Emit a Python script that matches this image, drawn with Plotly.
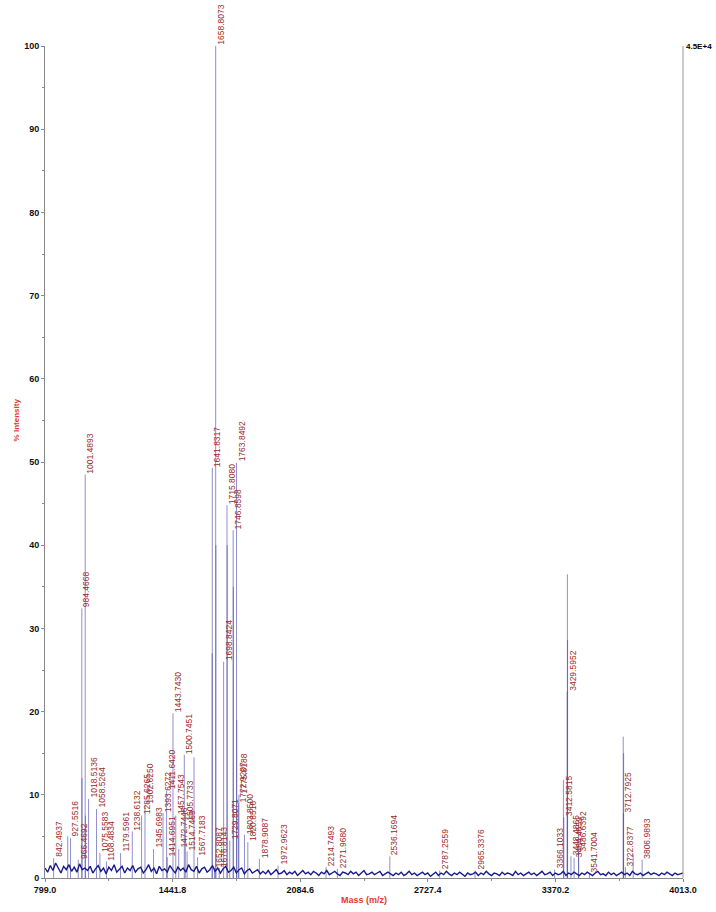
import plotly.graph_objects as go

# ---------------- data ----------------
x_ticks = [799.0, 1441.8, 2084.6, 2727.4, 3370.2, 4013.0]
y_ticks = [0, 10, 20, 30, 40, 50, 60, 70, 80, 90, 100]

peak_mz = [842.4937, 913.50, 927.5516, 966.4692, 984.4668, 985.47, 1001.4893, 1002.49,
           1018.5136, 1058.5264, 1075.5583, 1108.4834, 1179.5961, 1238.6132, 1285.6265,
           1302.6250, 1345.6983, 1393.6272, 1411.6420, 1414.6951, 1443.7430, 1457.7543,
           1472.7446, 1500.7451, 1505.7733, 1514.7469, 1549.70, 1567.7183, 1640.83,
           1641.8317, 1652.8087, 1658.8073, 1659.81, 1676.8143, 1698.8424, 1715.8080,
           1716.81, 1729.8071, 1746.8598, 1747.86, 1763.8492, 1764.85, 1772.9207,
           1775.8188, 1803.8500, 1820.8516, 1878.9087, 1972.9623, 2214.7493, 2271.9680,
           2536.1694, 2787.2559, 2965.3376, 3366.1033, 3410.60, 3412.5815, 3429.5952,
           3430.60, 3431.60, 3448.4865, 3464.4659, 3486.6392, 3487.64, 3541.7004,
           3711.79, 3712.7925, 3713.80, 3722.8377, 3762.0, 3806.9893]
peak_pct = [2.4, 5.0, 4.8, 2.2, 32.4, 12.0, 48.5, 7.5,
            9.5, 8.3, 3.0, 2.0, 3.0, 5.6, 7.5,
            8.8, 3.5, 7.8, 10.5, 2.5, 19.8, 7.5,
            3.5, 14.8, 6.8, 3.2, 14.5, 2.5, 27.0,
            49.3, 1.2, 100.0, 40.0, 1.2, 26.0, 44.8,
            40.0, 4.5, 41.8, 35.0, 49.9, 19.0, 9.0,
            10.0, 5.2, 4.3, 2.3, 1.5, 1.3, 1.1,
            2.6, 0.9, 0.9, 1.0, 11.8, 7.3, 22.4,
            36.5, 28.6, 2.6, 2.4, 3.0, 6.2, 0.6,
            17.0, 7.8, 15.0, 1.3, 2.8, 2.2]
peak_label = ["842.4937", None, "927.5516", "966.4692", "984.4668", None, "1001.4893", None,
              "1018.5136", "1058.5264", "1075.5583", "1108.4834", "1179.5961", "1238.6132", "1285.6265",
              "1302.6250", "1345.6983", "1393.6272", "1411.6420", "1414.6951", "1443.7430", "1457.7543",
              "1472.7446", "1500.7451", "1505.7733", "1514.7469", None, "1567.7183", None,
              "1641.8317", "1652.8087", "1658.8073", None, "1676.8143", "1698.8424", "1715.8080",
              None, "1729.8071", "1746.8598", None, "1763.8492", None, "1772.9207",
              "1775.8188", "1803.8500", "1820.8516", "1878.9087", "1972.9623", "2214.7493", "2271.9680",
              "2536.1694", "2787.2559", "2965.3376", "3366.1033", None, "3412.5815", "3429.5952",
              None, None, "3448.4865", "3464.4659", "3486.6392", None, "3541.7004",
              None, "3712.7925", None, "3722.8377", None, "3806.9893"]

baseline_start = 799.0
baseline_step = 13.39
baseline_pct = [
    1.2, 0.7, 1.5, 0.9, 1.8, 1.1, 0.6, 1.4, 1.0, 1.6, 0.8, 1.3, 0.7, 1.7, 1.0, 1.2,
    0.9, 1.4, 0.6, 1.1, 1.5, 0.8, 1.2, 0.5, 1.3, 0.9, 1.6, 0.7, 1.0, 1.4, 0.6, 1.2,
    0.9, 1.5, 0.7, 1.1, 1.3, 0.6, 1.0, 1.6, 0.8, 1.2, 0.5, 1.4, 0.9, 1.1, 0.7, 1.5,
    1.0, 0.6, 1.3, 0.9, 1.2, 0.7, 1.6, 1.0, 0.8, 1.4, 0.6, 1.1,
    1.3, 0.7, 1.0, 1.5, 0.8, 1.2, 0.6, 1.1, 1.4, 0.7, 0.9, 1.3, 0.6, 1.0, 1.2, 0.5,
    0.9, 1.1, 0.6, 0.8, 1.0, 0.5,
    0.8, 0.5, 0.9, 0.4, 0.7, 1.0, 0.5, 0.6, 0.9, 0.4, 0.7, 0.5, 0.8, 0.3, 0.6, 0.9,
    0.5, 0.7, 0.4, 0.8, 0.6, 0.3, 0.7, 0.5, 0.9, 0.4, 0.6, 0.8, 0.5, 0.3, 0.7, 0.6,
    0.4, 0.8, 0.5, 0.7, 0.3, 0.6, 0.9, 0.4, 0.5, 0.7, 0.4, 0.6, 0.8, 0.3, 0.5, 0.7,
    0.5, 0.3, 0.6, 0.4, 0.7, 0.3, 0.5, 0.8, 0.4, 0.6,
    0.3, 0.5, 0.7, 0.4, 0.6, 0.2, 0.5, 0.7, 0.3, 0.6,
    0.4, 0.8, 0.5, 0.3, 0.6, 0.4, 0.7, 0.5, 0.2, 0.6,
    0.4, 0.5, 0.7, 0.3, 0.6, 0.4, 0.8, 0.5, 0.3, 0.6,
    0.5, 0.3, 0.7, 0.4, 0.6, 0.5, 0.3, 0.8, 0.4, 0.6,
    0.3, 0.5, 0.7, 0.4, 0.6, 0.3, 0.5, 0.8, 0.4, 0.5,
    0.7, 0.3, 0.6, 0.4, 0.5, 0.8, 0.3, 0.6, 0.4, 0.7,
    0.5, 0.3, 0.6, 0.4, 0.7, 0.5, 0.3, 0.6, 0.8, 0.4,
    0.5, 0.3, 0.7, 0.4, 0.6, 0.3, 0.5, 0.7, 0.4, 0.6,
    0.3, 0.8, 0.5, 0.4, 0.6, 0.3, 0.5, 0.7, 0.4, 0.6,
    0.5, 0.3, 0.6, 0.4, 0.7, 0.5, 0.3, 0.6, 0.4, 0.5, 0.6]

max_counts_label = "4.5E+4"
x_title = "Mass (m/z)"
y_title = "% Intensity"

# ---------------- figure ----------------
FONT = "Liberation Sans, Arial, sans-serif"
LABEL_RED = "#9a2b2b"
TITLE_RED = "#e03a2f"

baseline_x = [baseline_start + i * baseline_step for i in range(len(baseline_pct))]

stick_x, stick_y = [], []
for mz, h in zip(peak_mz, peak_pct):
    stick_x += [mz, mz, None]
    stick_y += [0, h, None]

fig = go.Figure()
fig.add_trace(go.Scatter(x=stick_x, y=stick_y, mode="lines",
                         line=dict(color="rgba(70,70,165,0.6)", width=1),
                         hoverinfo="skip", showlegend=False))
fig.add_trace(go.Scatter(x=baseline_x, y=baseline_pct, mode="lines",
                         line=dict(color="#1a1a8a", width=1.4),
                         hoverinfo="skip", showlegend=False))

annotations = []
for mz, h, lab in zip(peak_mz, peak_pct, peak_label):
    if lab is None:
        continue
    annotations.append(dict(x=mz, y=h, xref="x", yref="y", text=lab, showarrow=False,
                            textangle=-90, xanchor="left", yanchor="bottom",
                            font=dict(family=FONT, size=8.5, color=LABEL_RED),
                            borderpad=0, xshift=-1, yshift=0))

annotations.append(dict(x=1, y=1, xref="paper", yref="paper", text="<b>%s</b>" % max_counts_label,
                        showarrow=False, xanchor="left", yanchor="middle", xshift=1,
                        font=dict(family=FONT, size=8, color="#000")))
annotations.append(dict(x=0, y=0.55, xref="paper", yref="paper", text="<b>%s</b>" % y_title,
                        showarrow=False, textangle=-90, xanchor="center", yanchor="middle",
                        xshift=-29, font=dict(family=FONT, size=8, color=TITLE_RED)))
annotations.append(dict(x=0.5, y=0, xref="paper", yref="paper", text="<b>%s</b>" % x_title,
                        showarrow=False, xanchor="center", yanchor="middle",
                        yshift=-22, font=dict(family=FONT, size=9, color=TITLE_RED)))

fig.update_layout(
    width=716, height=912,
    margin=dict(l=45, r=33, t=46, b=34),
    paper_bgcolor="white", plot_bgcolor="white",
    annotations=annotations,
    shapes=[dict(type="line", xref="paper", yref="paper", x0=1, x1=1, y0=0, y1=1,
                 line=dict(color="#999999", width=1))],
    showlegend=False,
)
fig.update_xaxes(range=[799.0, 4013.0], tickmode="array", tickvals=x_ticks,
                 ticktext=["<b>%.1f</b>" % v for v in x_ticks],
                 showgrid=False, zeroline=False, showline=True, linecolor="#888888", linewidth=1,
                 ticks="outside", ticklen=3, tickcolor="#888888",
                 minor=dict(ticks="outside", ticklen=2, tickcolor="#888888", dtick=321.4, tick0=799.0),
                 tickfont=dict(family=FONT, size=9, color="#111"))
fig.update_yaxes(range=[0, 100], tickmode="array", tickvals=y_ticks,
                 ticktext=["<b>%d</b>" % v for v in y_ticks],
                 showgrid=False, zeroline=False, showline=True, linecolor="#888888", linewidth=1,
                 ticks="outside", ticklen=3, tickcolor="#888888",
                 minor=dict(ticks="outside", ticklen=2, tickcolor="#888888", dtick=5, tick0=0),
                 tickfont=dict(family=FONT, size=9, color="#111"))

fig.write_html("out.html", config={"displayModeBar": False},
               post_script="document.body.style.margin='0';document.body.style.overflow='hidden';")
